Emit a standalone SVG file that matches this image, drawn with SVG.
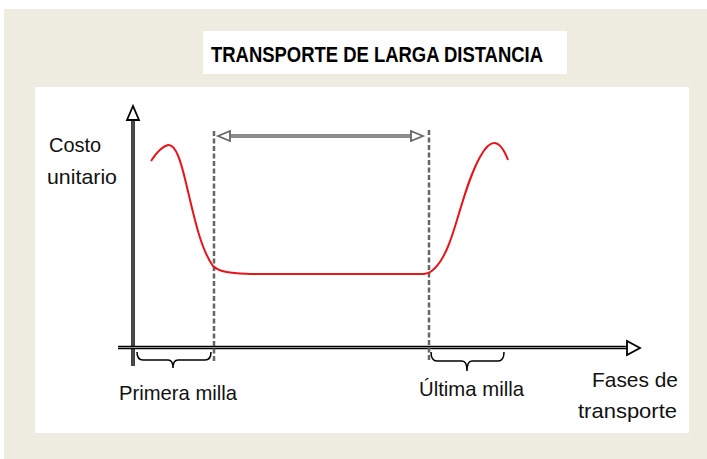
<svg xmlns="http://www.w3.org/2000/svg" width="707" height="459" viewBox="0 0 707 459">
<style>
.lbl{font-family:"Liberation Sans",Arial,sans-serif;font-size:21px;fill:#111}
.ttl{font-family:"Liberation Sans",Arial,sans-serif;font-size:22px;font-weight:bold;fill:#000}
.dash{stroke:#666;stroke-width:2.5;stroke-dasharray:5 2.5;fill:none}
.brace{stroke:#000;stroke-width:1.5;fill:none}
</style>
<rect x="0" y="0" width="707" height="459" fill="#fff"/>
<rect x="4" y="9" width="703" height="450" fill="#EEEBE0"/>
<rect x="35" y="87" width="654" height="346" fill="#fff"/>
<g id="title">
<rect x="203" y="31" width="364" height="43" fill="#fff"/>
<text class="ttl" x="211" y="62" textLength="332" lengthAdjust="spacingAndGlyphs">TRANSPORTE DE LARGA DISTANCIA</text>
</g>
<g id="connectors">
<g id="y-axis">
<line x1="133" y1="366" x2="133" y2="120" stroke="#000" stroke-width="3.5"/>
<line x1="133" y1="366" x2="133" y2="120" stroke="#bbb" stroke-width="0.8"/>
<polygon points="133,106 127,120 139,120" fill="#fff" stroke="#000" stroke-width="1.8"/>
</g>
<g id="x-axis">
<line x1="118" y1="347.5" x2="628" y2="347.5" stroke="#000" stroke-width="3.5"/>
<line x1="118" y1="347.5" x2="628" y2="347.5" stroke="#bbb" stroke-width="0.8"/>
<polygon points="640,348 627,341 627,355" fill="#fff" stroke="#000" stroke-width="1.8"/>
</g>
<line class="dash" x1="214" y1="131" x2="214" y2="362"/>
<line class="dash" x1="429" y1="130" x2="429" y2="360"/>
<g id="span-arrow">
<line x1="229" y1="136" x2="412" y2="136" stroke="#666" stroke-width="3.5"/>
<line x1="229" y1="136" x2="412" y2="136" stroke="#ccc" stroke-width="0.8"/>
<polygon points="218,136 230,131 230,141" fill="#fff" stroke="#666" stroke-width="1.8"/>
<polygon points="423,136 411,131 411,141" fill="#fff" stroke="#666" stroke-width="1.8"/>
</g>
<path d="M137,352 Q137,360 143,360 L168,360 Q173,360 173,368 Q173,360 178,360 L205,360 Q211,360 211,352" class="brace"/>
<path d="M431,352 Q431,361 437,361 L462,361 Q467,361 467,371 Q467,361 472,361 L498,361 Q504,361 504,352" class="brace"/>
</g>
<path id="curve" d="M151,161 Q160,147 168,145 C176,144 181,162 186,183 C193,212 200,248 213,266 C220,273 235,273 252,274 L424,274 C430,273 432,271 435,268 C445,258 451,240 457,220 C464,197 470,175 480,157 C485,148 489,143 494,143 C500,143 505,152 508,160" fill="none" stroke="#E8141B" stroke-width="2"/>
<g id="labels">
<text class="lbl" x="49" y="152" textLength="52" lengthAdjust="spacingAndGlyphs">Costo</text>
<text class="lbl" x="47" y="184" textLength="70" lengthAdjust="spacingAndGlyphs">unitario</text>
<text class="lbl" x="119" y="400" textLength="118" lengthAdjust="spacingAndGlyphs">Primera milla</text>
<text class="lbl" x="419" y="396" textLength="105" lengthAdjust="spacingAndGlyphs">Última milla</text>
<text class="lbl" x="592" y="387" textLength="86" lengthAdjust="spacingAndGlyphs">Fases de</text>
<text class="lbl" x="578" y="418" textLength="99" lengthAdjust="spacingAndGlyphs">transporte</text>
</g>
</svg>
